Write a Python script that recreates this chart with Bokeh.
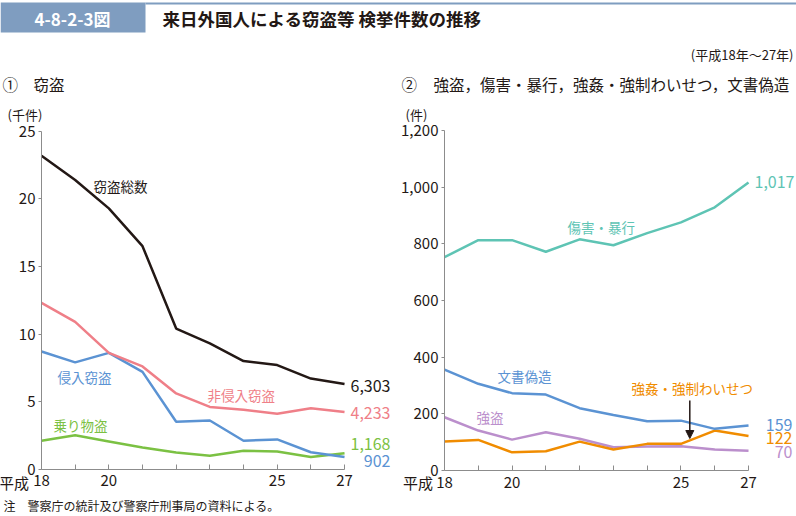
from bokeh.plotting import figure
from bokeh.layouts import column, row
from bokeh.models import Range1d, FixedTicker, NumeralTickFormatter, Arrow, NormalHead
from bokeh.core.properties import value
from bokeh.embed import file_html
from bokeh.resources import INLINE

# ---------------- data ----------------
years = [18, 19, 20, 21, 22, 23, 24, 25, 26, 27]
x_tick_labels = {18: "18", 19: "", 20: "20", 21: "", 22: "", 23: "", 24: "", 25: "25", 26: "", 27: "27"}

# (1) theft, thousands of cases
theft_total = [23.2, 21.4, 19.3, 16.5, 10.4, 9.3, 8.0, 7.7, 6.7, 6.303]
non_burglary = [12.3, 10.9, 8.6, 7.6, 5.6, 4.6, 4.4, 4.1, 4.5, 4.233]
burglary = [8.7, 7.9, 8.6, 7.2, 3.5, 3.6, 2.1, 2.2, 1.25, 0.902]
vehicle = [2.1, 2.5, 2.05, 1.6, 1.23, 0.99, 1.36, 1.3, 0.89, 1.168]
left_yticks = [0, 5, 10, 15, 20, 25]

# (2) other offences, cases
assault = [753, 813, 813, 772, 816, 795, 838, 876, 929, 1017]
forgery = [356, 306, 273, 268, 220, 196, 174, 176, 147, 159]
robbery = [188, 141, 109, 135, 112, 82, 85, 86, 74, 70]
sexual = [102, 108, 64, 68, 102, 74, 94, 94, 141, 122]
right_yticks = [0, 200, 400, 600, 800, 1000, 1200]

# ---------------- style ----------------
S = 1.0
FONT = "Noto Sans CJK JP"
TXT = "#231815"
AX = "#8c8c8c"
BOX = "#7f9dc0"
C_BLACK = "#231815"
C_PINK = "#ef7f88"
C_BLUE = "#5b93d3"
C_GREEN = "#7bc143"
C_TEAL = "#5ec4b4"
C_PURPLE = "#bb8fcc"
C_ORANGE = "#f08c00"
LW = 2.5

W, H = 796, 516
HDR_H, PAN_H = 66, 426
NOTE_H = H - HDR_H - PAN_H
PAN_W = 398


def fs(px):
    return f"{px * S:.1f}px"


def ref_y(cy):
    return cy / S


def txt(p, x, y, t, color=TXT, size=13.5, align="left", weight="normal", baseline="middle"):
    p.text(x=[x], y=[y], text=[t], text_color=color, text_font=value(FONT),
           text_font_size=fs(size), text_align=align, text_baseline=baseline,
           text_font_style=weight)


def base_fig(width, height, x_range, y_range, **kw):
    p = figure(width=width, height=height, x_range=x_range, y_range=y_range,
               output_backend="svg", toolbar_location=None, min_border=0, **kw)
    p.outline_line_color = None
    p.background_fill_color = "white"
    p.border_fill_color = "white"
    p.grid.grid_line_color = None
    return p


# ---------------- header ----------------
hdr = base_fig(W, HDR_H, Range1d(0, W / S), Range1d(ref_y(HDR_H), ref_y(0)),
               x_axis_location=None, y_axis_location=None)
hdr.quad(left=[0], right=[145], top=[2], bottom=[32], fill_color=BOX, line_color=None)
hdr.segment(x0=[145], y0=[3], x1=[796], y1=[3], line_color=BOX, line_width=2)
txt(hdr, 72, 17.5, "4-8-2-3図", color="white", size=17, align="center", weight="bold")
txt(hdr, 162, 18, "来日外国人による窃盗等 検挙件数の推移", size=17.5, weight="bold")
txt(hdr, 793, 54, "(平成18年～27年)", size=13, align="right")


# ---------------- panels ----------------
def make_panel(x0_ref, axis_x_ref, ppy, axis_y0_ref, ppu, yticks):
    """ppy: reference pixels per year, ppu: reference pixels per value unit."""
    top_ref, bot_ref = ref_y(HDR_H), ref_y(HDR_H + PAN_H)
    xr = Range1d(18 + (x0_ref - axis_x_ref) / ppy, 18 + (x0_ref + PAN_W / S - axis_x_ref) / ppy)
    yr = Range1d((axis_y0_ref - bot_ref) / ppu, (axis_y0_ref - top_ref) / ppu)
    p = base_fig(PAN_W, PAN_H, xr, yr)
    for ax in p.axis:
        ax.axis_line_color = AX
        ax.axis_line_width = 1
        ax.major_tick_line_color = AX
        ax.minor_tick_line_color = None
        ax.major_label_text_font = FONT
        ax.major_label_text_font_size = fs(15)
        ax.major_label_text_color = TXT
    p.xaxis.fixed_location = 0
    p.yaxis.fixed_location = years[0]
    p.xaxis.ticker = FixedTicker(ticks=years)
    p.xaxis.major_label_overrides = x_tick_labels
    p.xaxis.bounds = (years[0], years[-1])
    p.xaxis.major_tick_in = 5
    p.xaxis.major_tick_out = 0
    p.xaxis.major_label_standoff = 6
    p.yaxis.ticker = FixedTicker(ticks=yticks)
    p.yaxis.bounds = (yticks[0], yticks[-1])
    p.yaxis.major_tick_in = 0
    p.yaxis.major_tick_out = 3
    p.yaxis.major_label_standoff = 3

    def fx(rx):
        return 18 + (rx - axis_x_ref) / ppy

    def fy(ry):
        return (axis_y0_ref - ry) / ppu

    return p, fx, fy


# left panel: theft
left, lx, ly = make_panel(0, 41, 33.67, 468.6, 13.51, left_yticks)
left.line(years, vehicle, line_color=C_GREEN, line_width=LW)
left.line(years, burglary, line_color=C_BLUE, line_width=LW)
left.line(years, non_burglary, line_color=C_PINK, line_width=LW)
left.line(years, theft_total, line_color=C_BLACK, line_width=LW)

txt(left, lx(2), ly(83), "①", size=15.5)
txt(left, lx(33), ly(83), "窃盗", size=15.5)
txt(left, lx(7), ly(114), "(千件)", size=13)
txt(left, lx(28.5), ly(482), "平成", size=15, align="right")
txt(left, lx(93), ly(185), "窃盗総数", C_BLACK)
txt(left, lx(57), ly(376.7), "侵入窃盗", C_BLUE)
txt(left, lx(207), ly(394.3), "非侵入窃盗", C_PINK)
txt(left, lx(53), ly(424), "乗り物盗", C_GREEN)
for ser, col, ry in [(theft_total, C_BLACK, 385), (non_burglary, C_PINK, 412.3),
                     (vehicle, C_GREEN, 443.3), (burglary, C_BLUE, 460)]:
    txt(left, lx(390), ly(ry), f"{int(round(ser[-1] * 1000)):,}", col, size=16, align="right")

# right panel: robbery, assault, sexual offences, forgery
right, rx, ry_ = make_panel(PAN_W / S, 444, 33.78, 470, 0.2833, right_yticks)
right.yaxis.formatter = NumeralTickFormatter(format="0,0")
right.line(years, robbery, line_color=C_PURPLE, line_width=LW)
right.line(years, sexual, line_color=C_ORANGE, line_width=LW)
right.line(years, forgery, line_color=C_BLUE, line_width=LW)
right.line(years, assault, line_color=C_TEAL, line_width=LW)

txt(right, rx(401), ry_(83), "②", size=15.5)
txt(right, rx(433), ry_(83), "強盗，傷害・暴行，強姦・強制わいせつ，文書偽造", size=15.5)
txt(right, rx(405), ry_(114), "(件)", size=13)
txt(right, rx(432.5), ry_(482), "平成", size=15, align="right")
txt(right, rx(567), ry_(226.7), "傷害・暴行", C_TEAL)
txt(right, rx(754), ry_(181.7), f"{assault[-1]:,}", C_TEAL, size=16)
txt(right, rx(497), ry_(375.7), "文書偽造", C_BLUE)
txt(right, rx(476), ry_(416), "強盗", C_PURPLE)
txt(right, rx(631), ry_(387.3), "強姦・強制わいせつ", C_ORANGE)
for ser, col, ry in [(forgery, C_BLUE, 424.3), (sexual, C_ORANGE, 437.3), (robbery, C_PURPLE, 451.7)]:
    txt(right, rx(792), ry_(ry), f"{ser[-1]:,}", col, size=16, align="right")
right.add_layout(Arrow(end=NormalHead(size=8, fill_color=C_BLACK, line_color=C_BLACK),
                       x_start=rx(689.3), y_start=ry_(400), x_end=rx(689.3), y_end=ry_(438),
                       line_color=C_BLACK, line_width=1.5))

# ---------------- note ----------------
note = base_fig(W, NOTE_H, Range1d(0, W / S), Range1d(ref_y(H), ref_y(HDR_H + PAN_H)),
                x_axis_location=None, y_axis_location=None)
txt(note, 3, 505, "注　警察庁の統計及び警察庁刑事局の資料による。", size=12)

layout = column(hdr, row(left, right), note)
open("out.html", "w").write(file_html(layout, INLINE))
